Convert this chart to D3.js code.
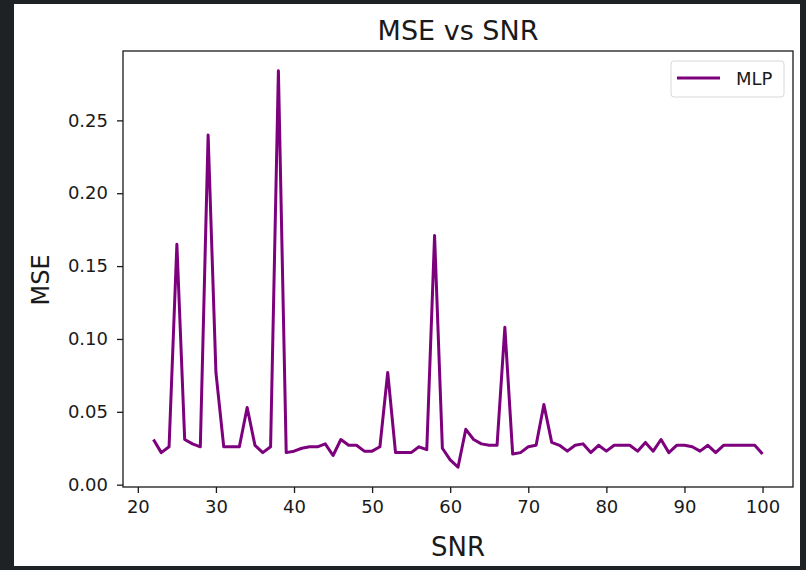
<!DOCTYPE html>
<html>
<head>
<meta charset="utf-8">
<script src="https://cdn.jsdelivr.net/npm/d3@7"></script>
<style>
  html, body { margin: 0; padding: 0; background: #1f2225; }
  svg { display: block; }
  text { font-family: "DejaVu Sans", sans-serif; fill: #1a1a1a; }
</style>
</head>
<body>
<svg id="chart" width="806" height="570"></svg>
<script>
// SNR values (dB) and the MLP mean squared error at each
const snr = d3.range(22, 101);
const mse = [
  0.031, 0.022, 0.026, 0.165, 0.031, 0.028, 0.026, 0.240, 0.077, 0.026,
  0.026, 0.026, 0.053, 0.027, 0.022, 0.026, 0.284, 0.022, 0.023, 0.025,
  0.026, 0.026, 0.028, 0.020, 0.031, 0.027, 0.027, 0.023, 0.023, 0.026,
  0.077, 0.022, 0.022, 0.022, 0.026, 0.024, 0.171, 0.025, 0.017, 0.012,
  0.038, 0.031, 0.028, 0.027, 0.027, 0.108, 0.021, 0.022, 0.026, 0.027,
  0.055, 0.029, 0.027, 0.023, 0.027, 0.028, 0.022, 0.027, 0.023, 0.027,
  0.027, 0.027, 0.023, 0.029, 0.023, 0.031, 0.022, 0.027, 0.027, 0.026,
  0.023, 0.027, 0.022, 0.027, 0.027, 0.027, 0.027, 0.027, 0.021
];
const xTicks = [20, 30, 40, 50, 60, 70, 80, 90, 100];
const yTicks = [0.00, 0.05, 0.10, 0.15, 0.20, 0.25];
const seriesName = "MLP";

const data = snr.map((s, i) => ({ x: s, y: mse[i] }));

const svg = d3.select("#chart");

// white figure panel
svg.append("rect")
  .attr("x", 14).attr("y", 4)
  .attr("width", 786).attr("height", 562)
  .attr("fill", "#ffffff");

const plot = { left: 123, right: 793, top: 51, bottom: 487 };

// 5% padding on each side of the data range
function padded(ext) {
  const m = (ext[1] - ext[0]) * 0.05;
  return [ext[0] - m, ext[1] + m];
}

const x = d3.scaleLinear()
  .domain(padded(d3.extent(snr)))
  .range([plot.left, plot.right]);
const y = d3.scaleLinear()
  .domain(padded(d3.extent(mse)))
  .range([plot.bottom, plot.top]);

// data line
svg.append("path")
  .datum(data)
  .attr("fill", "none")
  .attr("stroke", "#7d007d")
  .attr("stroke-width", 3)
  .attr("stroke-linejoin", "round")
  .attr("d", d3.line().x(d => x(d.x)).y(d => y(d.y)));

// axes
const xAxis = svg.append("g")
  .attr("transform", `translate(0,${plot.bottom})`)
  .call(d3.axisBottom(x).tickValues(xTicks).tickSize(6).tickPadding(7).tickFormat(d3.format("d")));
const yAxis = svg.append("g")
  .attr("transform", `translate(${plot.left},0)`)
  .call(d3.axisLeft(y).tickValues(yTicks).tickSize(6).tickPadding(9).tickFormat(d3.format(".2f")));

[xAxis, yAxis].forEach(g => {
  g.select(".domain").remove();
  g.selectAll(".tick line").attr("stroke", "#1a1a1a").attr("stroke-width", 1.3);
  g.selectAll(".tick text")
    .attr("font-family", "DejaVu Sans, sans-serif")
    .attr("font-size", 18)
    .attr("fill", "#262626");
});

// frame
svg.append("rect")
  .attr("x", plot.left).attr("y", plot.top)
  .attr("width", plot.right - plot.left)
  .attr("height", plot.bottom - plot.top)
  .attr("fill", "none")
  .attr("stroke", "#1a1a1a")
  .attr("stroke-width", 1.3);

// title and axis labels
svg.append("text")
  .attr("x", (plot.left + plot.right) / 2).attr("y", 40)
  .attr("text-anchor", "middle")
  .attr("font-size", 27)
  .text("MSE vs SNR");

svg.append("text")
  .attr("x", (plot.left + plot.right) / 2).attr("y", 556)
  .attr("text-anchor", "middle")
  .attr("font-size", 26)
  .text("SNR");

svg.append("text")
  .attr("transform", "translate(49,280) rotate(-90)")
  .attr("text-anchor", "middle")
  .attr("font-size", 24)
  .text("MSE");

// legend
const lg = svg.append("g").attr("transform", "translate(671,61)");
lg.append("rect")
  .attr("width", 113).attr("height", 36)
  .attr("rx", 3)
  .attr("fill", "#ffffff")
  .attr("stroke", "#d8d8d8")
  .attr("stroke-width", 1);
lg.append("line")
  .attr("x1", 6).attr("x2", 49)
  .attr("y1", 17).attr("y2", 17)
  .attr("stroke", "#7d007d")
  .attr("stroke-width", 3);
lg.append("text")
  .attr("x", 65).attr("y", 24)
  .attr("font-size", 18)
  .attr("fill", "#262626")
  .text(seriesName);
</script>
</body>
</html>
